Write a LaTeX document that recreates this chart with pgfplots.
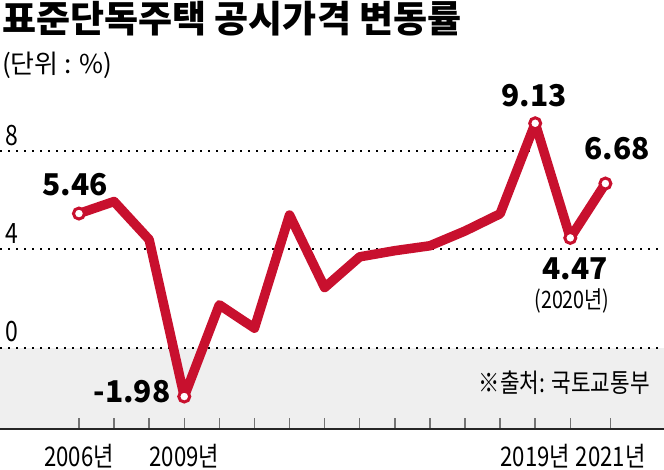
\documentclass[border=0pt]{standalone}
\usepackage{pgfplots}
\pgfplotsset{compat=1.18}
\usepackage{fontspec}
\setmainfont{Noto Sans CJK KR}
\newfontfamily\cond[FakeStretch=0.82]{Noto Sans CJK KR}
\definecolor{linered}{RGB}{200,16,46}
\definecolor{zerobg}{RGB}{239,239,239}

\begin{document}
\begin{tikzpicture}
\useasboundingbox (0,-40pt) rectangle (664pt,429pt);
\begin{axis}[
    at={(0,0)}, anchor=south west,
    width=664pt, height=334pt, scale only axis,
    xmin=2003.75, xmax=2022.67,
    ymin=-3.3, ymax=10.28,
    axis on top,
    axis x line*=bottom,
    axis y line=none,
    ytick=\empty,
    axis line style={draw=black!85, line width=2pt},
    xtick={2006,...,2020,2021.15},
    xticklabels={2006년,,,2009년,,,,,,,,,,2019년,,2021년},
    tick align=inside,
    major tick length=11pt,
    xtick style={draw=black!55, line width=1.5pt},
    xticklabel style={font=\cond\fontsize{27}{30}\selectfont, anchor=base, yshift=-37pt},
]
    % shaded area below zero
    \fill[zerobg] (axis cs:2003.75,0) rectangle (axis cs:2022.67,-3.3);

    % dotted gridlines
    \draw[black, line width=2pt, dash pattern=on 2pt off 6pt] (axis cs:2003.75,0) -- (axis cs:2022.67,0);
    \draw[black, line width=2pt, dash pattern=on 2pt off 6pt] (axis cs:2003.75,4) -- (axis cs:2022.67,4);
    \draw[black, line width=2pt, dash pattern=on 2pt off 6pt] (axis cs:2003.75,8) -- (axis cs:2018.9,8);

    \addplot[linered, line width=9.5pt, line join=round] coordinates {
        (2006,5.46) (2007,5.95) (2008,4.4) (2009,-1.98) (2010,1.75)
        (2011,0.8) (2012,5.4) (2013,2.45) (2014,3.7) (2015,3.95)
        (2016,4.15) (2017,4.75) (2018,5.45) (2019,9.13) (2020,4.47)
        (2021,6.68)
    };
    \addplot[only marks, mark=*, mark size=5.5pt,
        mark options={draw=linered, fill=white, line width=3pt}] coordinates {
        (2006,5.46) (2009,-1.98) (2019,9.13) (2020,4.47) (2021,6.68)
    };

    % y tick labels sit above the gridlines
    \node[anchor=base west, inner sep=0pt, font=\cond\fontsize{28}{30}\selectfont]
        at (axis cs:2003.75,0) [xshift=5pt, yshift=6pt] {0};
    \node[anchor=base west, inner sep=0pt, font=\cond\fontsize{28}{30}\selectfont]
        at (axis cs:2003.75,4) [xshift=5pt, yshift=6pt] {4};
    \node[anchor=base west, inner sep=0pt, font=\cond\fontsize{28}{30}\selectfont]
        at (axis cs:2003.75,8) [xshift=5pt, yshift=6pt] {8};
\end{axis}

% title and notes
\node[anchor=base west, inner sep=0pt, font=\fontsize{37}{42}\selectfont\bfseries]
    at (2pt,396pt) {표준단독주택 공시가격 변동률};
\node[anchor=base west, inner sep=0pt, font=\fontsize{26}{30}\selectfont]
    at (2pt,355pt) {(단위 : \%)};
\node[anchor=base east, inner sep=0pt, font=\cond\fontsize{26}{30}\selectfont]
    at (650pt,37pt) {※출처: 국토교통부};

% value labels
\begin{scope}[every node/.style={inner sep=0pt, font=\fontsize{30}{34}\selectfont\bfseries}]
    \node at (75pt,244pt) {5.46};
    \node at (132pt,37pt) {-1.98};
    \node at (534pt,333pt) {9.13};
    \node at (617pt,280pt) {6.68};
    \node at (575pt,160pt) {4.47};
\end{scope}
\node[anchor=base, inner sep=0pt, font=\cond\fontsize{24}{28}\selectfont]
    at (572pt,121pt) {(2020년)};
\end{tikzpicture}
\end{document}
